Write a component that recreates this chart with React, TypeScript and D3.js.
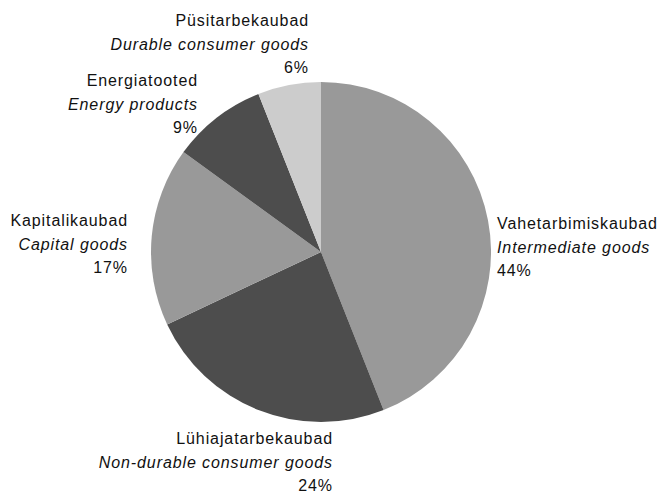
import React, { useEffect, useRef } from 'react';
import * as d3 from 'd3';

const labelsEt = ['Vahetarbimiskaubad', 'Lühiajatarbekaubad', 'Kapitalikaubad', 'Energiatooted', 'Püsitarbekaubad'];
const labelsEn = ['Intermediate goods', 'Non-durable consumer goods', 'Capital goods', 'Energy products', 'Durable consumer goods'];
const shares = [44, 24, 17, 9, 6];
const colors = ['#999999', '#4d4d4d', '#999999', '#4d4d4d', '#cccccc'];

// label anchor points (x, first baseline) and alignment, per slice
const labelPos: [number, number, string][] = [
  [497, 229, 'start'],
  [333, 444, 'end'],
  [128, 226, 'end'],
  [198, 86, 'end'],
  [309, 26, 'end'],
];

const App: React.FC = () => {
  const svgRef = useRef<SVGSVGElement>(null);

  useEffect(() => {
    if (!svgRef.current) return;
    const svg = d3.select(svgRef.current);
    svg.selectAll('*').remove();

    const cx = 321, cy = 252, r = 170;
    const g = svg.append('g').attr('transform', `translate(${cx},${cy})`);

    const pie = d3.pie<number>().sort(null).value(d => d);
    const arc = d3.arc<d3.PieArcDatum<number>>().innerRadius(0).outerRadius(r);

    g.selectAll('path')
      .data(pie(shares))
      .enter()
      .append('path')
      .attr('d', arc)
      .attr('fill', (_d, i) => colors[i]);

    const lbl = svg.append('g')
      .style('font-family', '"Liberation Sans", Arial, sans-serif')
      .style('font-size', '16px')
      .style('letter-spacing', '0.9px')
      .attr('fill', '#111');

    shares.forEach((s, i) => {
      const [x, y, anchor] = labelPos[i];
      const t = lbl.append('text').attr('text-anchor', anchor);
      t.append('tspan').attr('x', x).attr('y', y).text(labelsEt[i]);
      t.append('tspan').attr('x', x).attr('y', y + 23.5).style('font-style', 'italic').text(labelsEn[i]);
      t.append('tspan').attr('x', x).attr('y', y + 47).text(`${s}%`);
    });
  }, []);

  return <svg ref={svgRef} width={660} height={494} style={{ position: 'absolute', left: 0, top: 0, background: '#fff' }} />;
};

export default App;
